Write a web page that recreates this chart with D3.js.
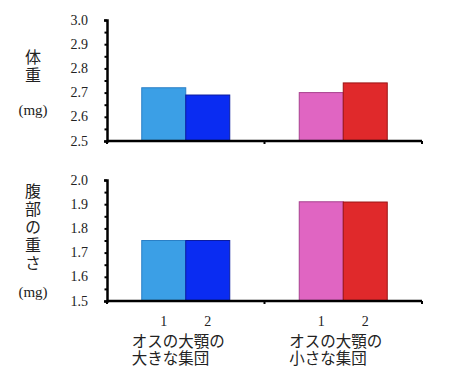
<!DOCTYPE html>
<html><head><meta charset="utf-8">
<script src="https://cdn.jsdelivr.net/npm/d3@7"></script>
<style>body{margin:0;background:#fff}
.serif{font-family:"Liberation Serif","DejaVu Serif",serif}
.jp{font-family:"Noto Sans CJK JP",sans-serif}</style>
</head><body>
<svg id="c" width="450" height="390"></svg>
<script>
const groups = ["オスの大顎の\n大きな集団", "オスの大顎の\n小さな集団"];
const subLabels = ["1", "2"];
const weightValues = [[2.72, 2.69], [2.70, 2.74]];
const abdomenValues = [[1.75, 1.75], [1.91, 1.909]];
const weightTicks = [2.5, 2.6, 2.7, 2.8, 2.9, 3.0];
const abdomenTicks = [1.5, 1.6, 1.7, 1.8, 1.9, 2.0];
const fills = [["#3b9fe6", "#0a2cf2"], ["#e065c2", "#e0292b"]];
const strokes = [["#2a7fc6", "#0a1ca0"], ["#a8408e", "#9c1414"]];

const svg = d3.select("#c");
const x0 = 107, x1 = 422;
const gx = d3.scaleBand().domain(groups).range([x0, x1]);
const sx = d3.scaleBand().domain(subLabels).range([-44, 44]);

function panel(values, ticks, yTop, yBot, title, titleY, mgY) {
  const y = d3.scaleLinear().domain([ticks[0], ticks[ticks.length-1]]).range([yBot, yTop]);
  const g = svg.append("g");
  groups.forEach((grp, gi) => {
    const cx = gx(grp) + gx.bandwidth()/2;
    subLabels.forEach((s, si) => {
      g.append("rect")
        .attr("x", cx + sx(s)).attr("width", sx.bandwidth())
        .attr("y", y(values[gi][si])).attr("height", y(ticks[0]) - y(values[gi][si]))
        .attr("fill", fills[gi][si]).attr("stroke", strokes[gi][si]).attr("stroke-width", 1);
    });
  });
  const minor = d3.range(ticks[0], ticks[ticks.length-1] + 0.001, 0.05);
  const ya = d3.axisLeft(y).tickValues(minor).tickSize(3).tickFormat("");
  const yg = g.append("g").attr("transform", `translate(${x0},0)`).call(ya);
  yg.select(".domain").attr("stroke", "#000").attr("stroke-width", 2.5);
  yg.selectAll(".tick line").attr("stroke", "#000").attr("stroke-width", 2).attr("x2", 0).attr("x1", -2.5);
  ticks.forEach(t => {
    g.append("text").attr("class", "serif").attr("x", 88).attr("y", y(t) + 4.5).attr("text-anchor", "end")
      .attr("font-size", 14).attr("fill", "#222")
      .text(d3.format(".1f")(t));
  });
  g.append("line").attr("x1", x0).attr("x2", x1).attr("y1", yBot).attr("y2", yBot)
    .attr("stroke", "#000").attr("stroke-width", 2.5);
  [x0, gx(groups[1]), x1].forEach(xx => {
    g.append("line").attr("x1", xx).attr("x2", xx).attr("y1", yBot).attr("y2", yBot + 3)
      .attr("stroke", "#000").attr("stroke-width", 2);
  });
  g.append("text").attr("class", "jp").attr("x", 33).attr("y", titleY)
    .style("writing-mode", "vertical-rl").style("letter-spacing", "2px")
    .attr("font-size", 16).attr("fill", "#222")
    .text(title);
  g.append("text").attr("class", "serif").attr("x", 33).attr("y", mgY + 5).attr("text-anchor", "middle")
    .attr("font-size", 15).attr("fill", "#222")
    .text("(mg)");
}

panel(weightValues, weightTicks, 20, 141, "体重", 49, 110);
panel(abdomenValues, abdomenTicks, 180, 301, "腹部の重さ", 183, 292);

groups.forEach(grp => {
  const cx = gx(grp) + gx.bandwidth()/2;
  subLabels.forEach(s => {
    svg.append("text").attr("class", "serif").attr("x", cx + sx(s) + sx.bandwidth()/2).attr("y", 326).attr("text-anchor", "middle")
      .attr("font-size", 14).attr("fill", "#222").text(s);
  });
  const t = svg.append("text").attr("class", "jp").attr("x", cx - 54).attr("y", 347)
    .attr("font-size", 15.5).attr("fill", "#222");
  grp.split("\n").forEach((ln, i) => {
    t.append("tspan").attr("x", cx - 54).attr("dy", i === 0 ? 0 : 17).text(ln);
  });
});
</script>
</body></html>
